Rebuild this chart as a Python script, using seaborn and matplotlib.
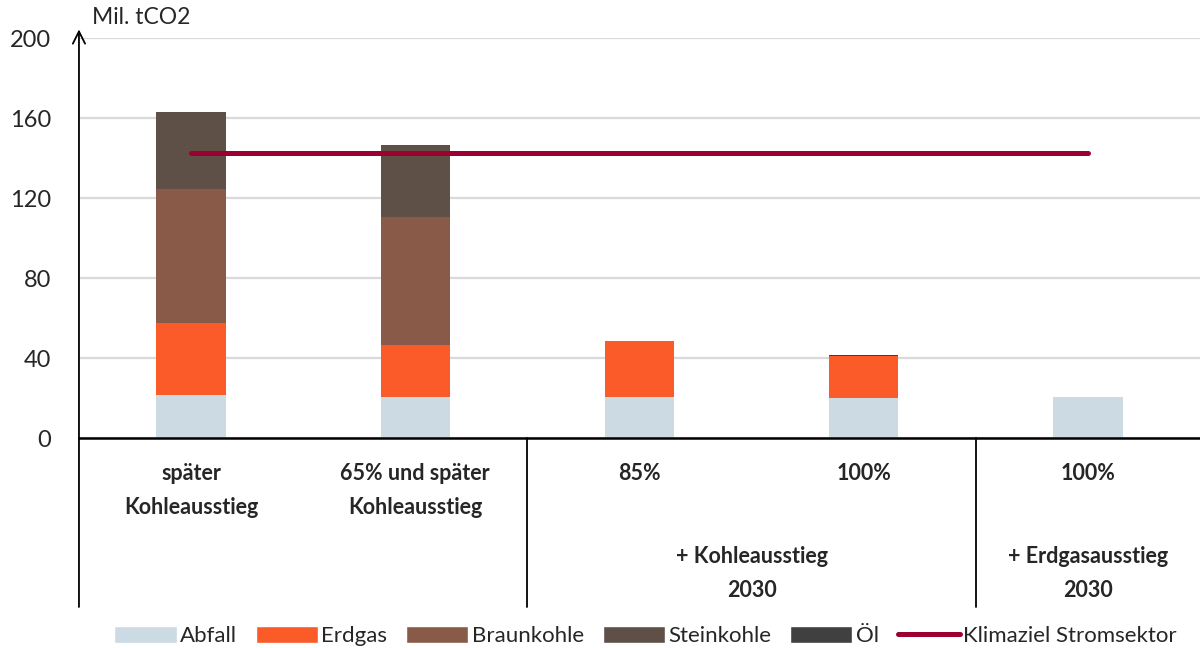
import numpy as np
import pandas as pd
import matplotlib
matplotlib.use('Agg')
import matplotlib.pyplot as plt
import matplotlib.transforms as mtransforms
from matplotlib.patches import Patch
from matplotlib.lines import Line2D
import seaborn as sns

sns.set_style('white')
plt.rcParams['font.family'] = ['Lato', 'DejaVu Sans']

# data (Mil. tCO2)
scenarios = ['s1', 's2', 's3', 's4', 's5']
labels_top = ['später\nKohleausstieg', '65% und später\nKohleausstieg', '85%', '100%', '100%']
abfall = [21.5, 20.5, 20.5, 20.0, 20.5]
erdgas = [36.0, 26.0, 28.0, 21.0, 0.0]
braunkohle = [67.0, 64.0, 0.0, 0.0, 0.0]
steinkohle = [38.5, 36.0, 0.0, 0.0, 0.0]
oel = [0.0, 0.0, 0.0, 0.3, 0.0]
klimaziel = [142.5, 142.5]

layers = ['Abfall', 'Erdgas', 'Braunkohle', 'Steinkohle', 'Öl']
colors = ['#CCDAE3', '#FA5B28', '#8A5A48', '#5E4F47', '#404040']
line_color = '#9B0030'

df = pd.DataFrame({'scenario': scenarios, 'Abfall': abfall, 'Erdgas': erdgas,
                   'Braunkohle': braunkohle, 'Steinkohle': steinkohle, 'Öl': oel})
cum = df[layers].cumsum(axis=1)

fig = plt.figure(figsize=(12, 6.48), dpi=100)
ax = fig.add_axes([0.0658, 0.324, 0.9342, 0.617])

# stacked bars: draw cumulative totals from top layer down
for layer, col in reversed(list(zip(layers, colors))):
    sns.barplot(x=df['scenario'], y=cum[layer], color=col, width=0.31,
                saturation=1, ax=ax, zorder=2, linewidth=0)

ax.plot([0, len(scenarios) - 1], klimaziel, color=line_color, lw=3.6,
        solid_capstyle='round', zorder=3)

ax.set_xlim(-0.5, len(scenarios) - 0.5)
ax.set_ylim(0, 200)
ax.set_yticks([0, 40, 80, 120, 160, 200])
ax.tick_params(axis='y', labelsize=17, length=0, pad=20)
ax.set_xticks([])
ax.set_xlabel('')
ax.set_ylabel('')
ax.grid(axis='y', color='#D9D9D9', lw=1.6, zorder=0)
for s in ['top', 'right', 'left']:
    ax.spines[s].set_visible(False)
ax.spines['bottom'].set_color('black')
ax.spines['bottom'].set_linewidth(1.8)
ax.spines['bottom'].set_zorder(4)

# left axis with arrow
ax.annotate('', xy=(0, 1.022), xytext=(0, -0.4225), xycoords='axes fraction',
            arrowprops=dict(arrowstyle='->', color='black', lw=1.3,
                            mutation_scale=22, shrinkA=0, shrinkB=0),
            annotation_clip=False)
ax.text(0.012, 1.025, 'Mil. tCO2', transform=ax.transAxes, fontsize=16.5,
        ha='left', va='bottom')

trans = mtransforms.blended_transform_factory(ax.transData, ax.transAxes)
for xpos in [1.5, 3.5]:
    ax.plot([xpos, xpos], [0, -0.4225], transform=trans, color='black',
            lw=1.3, clip_on=False)

for i, lab in enumerate(labels_top):
    ax.text(i, -0.063, lab, transform=trans, ha='center', va='top',
            fontsize=15.5, fontweight='bold', linespacing=1.75)
ax.text(2.5, -0.27, '+ Kohleausstieg\n2030', transform=trans, ha='center',
        va='top', fontsize=15.5, fontweight='bold', linespacing=1.75)
ax.text(4.0, -0.27, '+ Erdgasausstieg\n2030', transform=trans, ha='center',
        va='top', fontsize=15.5, fontweight='bold', linespacing=1.75)

handles = [Patch(facecolor=c, label=l) for l, c in zip(layers, colors)]
handles.append(Line2D([0], [0], color=line_color, lw=3.6, label='Klimaziel Stromsektor'))
fig.legend(handles=handles, loc='lower center', bbox_to_anchor=(0.538, -0.028),
           ncol=6, frameon=False, fontsize=16, handlelength=2.8,
           handleheight=0.85, handletextpad=0.15, columnspacing=0.85)

fig.savefig('out.png', dpi=100)
